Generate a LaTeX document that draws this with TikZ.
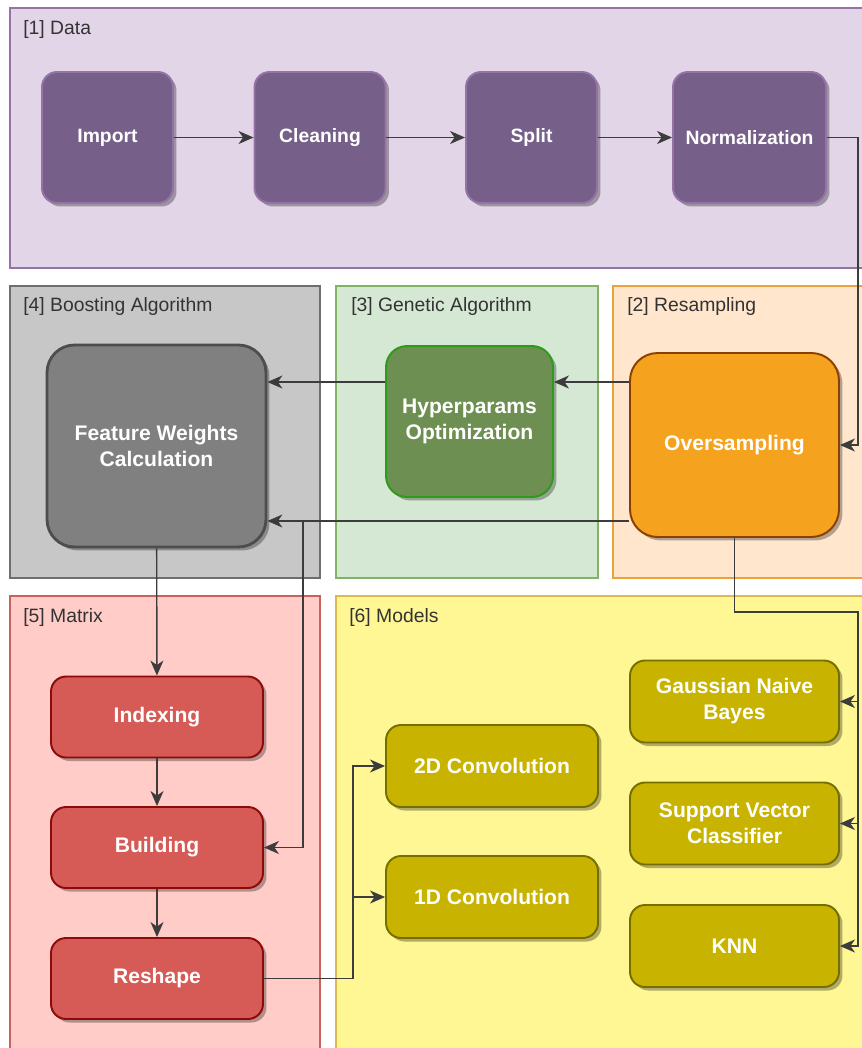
\documentclass[tikz,border=0pt]{standalone}
\usepackage{fontspec}
\setmainfont{Liberation Sans}
\usetikzlibrary{arrows.meta,shadows}

\definecolor{dataF}{HTML}{E1D5E7}
\definecolor{dataD}{HTML}{9673A6}
\definecolor{dataN}{HTML}{76608A}
\definecolor{boostF}{HTML}{C7C7C7}
\definecolor{boostD}{HTML}{6E6E6E}
\definecolor{boostN}{HTML}{808080}
\definecolor{boostB}{HTML}{4D4D4D}
\definecolor{genF}{HTML}{D5E8D4}
\definecolor{genD}{HTML}{82B366}
\definecolor{genN}{HTML}{6D8F52}
\definecolor{genB}{HTML}{2D9A1A}
\definecolor{resF}{HTML}{FFE6CC}
\definecolor{resD}{HTML}{E8A33A}
\definecolor{resN}{HTML}{F5A21E}
\definecolor{resB}{HTML}{8A4000}
\definecolor{matF}{HTML}{FFCCC8}
\definecolor{matD}{HTML}{C8625E}
\definecolor{matN}{HTML}{D65A55}
\definecolor{matB}{HTML}{8B0A0A}
\definecolor{modF}{HTML}{FFF694}
\definecolor{modD}{HTML}{E0B850}
\definecolor{modN}{HTML}{C8B400}
\definecolor{modB}{HTML}{756E00}
\definecolor{wire}{HTML}{3C3C3C}
\definecolor{txt}{HTML}{333333}

\begin{document}
\begin{tikzpicture}[x=0.02cm,y=-0.02cm,
  >={Stealth[length=0.3cm,width=0.26cm,inset=0.09cm]},
  box/.style={rounded corners=0.3cm,line width=1.1pt,text=white,align=center,
    font=\bfseries\fontsize{12}{14.8}\selectfont,
    drop shadow={shadow xshift=0.07cm,shadow yshift=-0.07cm,fill=black,opacity=0.3}},
  databox/.style={box,font=\bfseries\fontsize{11}{14}\selectfont,fill=dataN,draw=dataD,minimum width=2.62cm,minimum height=2.62cm},
  modbox/.style={box,fill=modN,draw=modB,minimum width=4.18cm,minimum height=1.64cm},
  matbox/.style={box,fill=matN,draw=matB,minimum width=4.24cm,minimum height=1.62cm},
  grp/.style={line width=0.7pt},
  lbl/.style={anchor=west,inner sep=0pt,text=txt,font=\fontsize{11}{13}\selectfont},
  wires/.style={draw=wire,line width=0.8pt}]
  \useasboundingbox (0,0) rectangle (862,1048);
  \clip (0,0) rectangle (862,1048);

  % groups
  \draw[grp,fill=dataF,draw=dataD] (10,8) rectangle (870,268);
  \draw[grp,fill=boostF,draw=boostD] (10,286) rectangle (320,578);
  \draw[grp,fill=genF,draw=genD] (336,286) rectangle (598,578);
  \draw[grp,fill=resF,draw=resD] (613,286) rectangle (870,578);
  \draw[grp,fill=matF,draw=matD] (10,596) rectangle (320,1060);
  \draw[grp,fill=modF,draw=modD] (336,596) rectangle (870,1060);
  \node[lbl] (L1) at (23,30) {[1] Data};
  \node[lbl] (L4) at (23,307) {[4] Boosting Algorithm};
  \node[lbl] (L3) at (351,307) {[3] Genetic Algorithm};
  \node[lbl] (L2) at (627,307) {[2] Resampling};
  \node[lbl] (L5) at (23,617) {[5] Matrix};
  \node[lbl] (L6) at (349,617) {[6] Models};

  % data
  \node[databox] (imp) at (107.5,137.5) {Import};
  \node[databox] (clean) at (320,137.5) {Cleaning};
  \node[databox] (split) at (531.5,137.5) {Split};
  \node[databox,minimum width=3.06cm] (norm) at (749.5,137.5) {Normalization};

  % resampling, genetic, boosting
  \node[box,fill=resN,draw=resB,rounded corners=0.55cm,minimum width=4.18cm,minimum height=3.68cm] (over) at (734.5,445) {Oversampling};
  \node[box,fill=genN,draw=genB,rounded corners=0.42cm,minimum width=3.34cm,minimum height=3.02cm] (hyper) at (469.5,421.5) {Hyperparams\\Optimization};
  \node[box,fill=boostN,draw=boostB,line width=1.6pt,rounded corners=0.55cm,minimum width=4.38cm,minimum height=4.04cm] (feat) at (156.5,446) {Feature Weights\\Calculation};

  % matrix
  \node[matbox] (idx) at (157,717) {Indexing};
  \node[matbox] (build) at (157,847.5) {Building};
  \node[matbox] (resh) at (157,978.5) {Reshape};

  % models
  \node[modbox,minimum width=4.24cm] (conv2) at (492,766) {2D Convolution};
  \node[modbox,minimum width=4.24cm] (conv1) at (492,897) {1D Convolution};
  \node[modbox] (gnb) at (734.5,701.5) {Gaussian Naive\\Bayes};
  \node[modbox] (svc) at (734.5,823.5) {Support Vector\\Classifier};
  \node[modbox] (knn) at (734.5,946) {KNN};

  \coordinate (r1) at (0,382);
  \coordinate (r2) at (0,521);
  \coordinate (bus) at (858,612);
  \coordinate (fork) at (353,978.5);

  \draw[wires,->] (imp) -- (clean);
  \draw[wires,->] (clean) -- (split);
  \draw[wires,->] (split) -- (norm);
  \draw[wires,->] (norm.east) -- (858,137.5) |- (over.east);
  \draw[wires,->] (over.west |- r1) -- (hyper.east |- r1);
  \draw[wires,->] (hyper.west |- r1) -- (feat.east |- r1);
  \draw[wires,->] (over.west |- r2) -- (feat.east |- r2);
  \draw[wires,->] (over.west |- r2) -- (303,521) |- (build.east);
  \draw[wires,->] (feat) -- (idx);
  \draw[wires,->] (idx) -- (build);
  \draw[wires,->] (build) -- (resh);
  \draw[wires,->] (resh.east) -- (fork) |- (conv2.west);
  \draw[wires,->] (fork) |- (conv1.west);
  \draw[wires,->] (over.south) |- (bus) |- (gnb.east);
  \draw[wires,->] (bus) |- (svc.east);
  \draw[wires,->] (bus) |- (knn.east);
\end{tikzpicture}
\end{document}
